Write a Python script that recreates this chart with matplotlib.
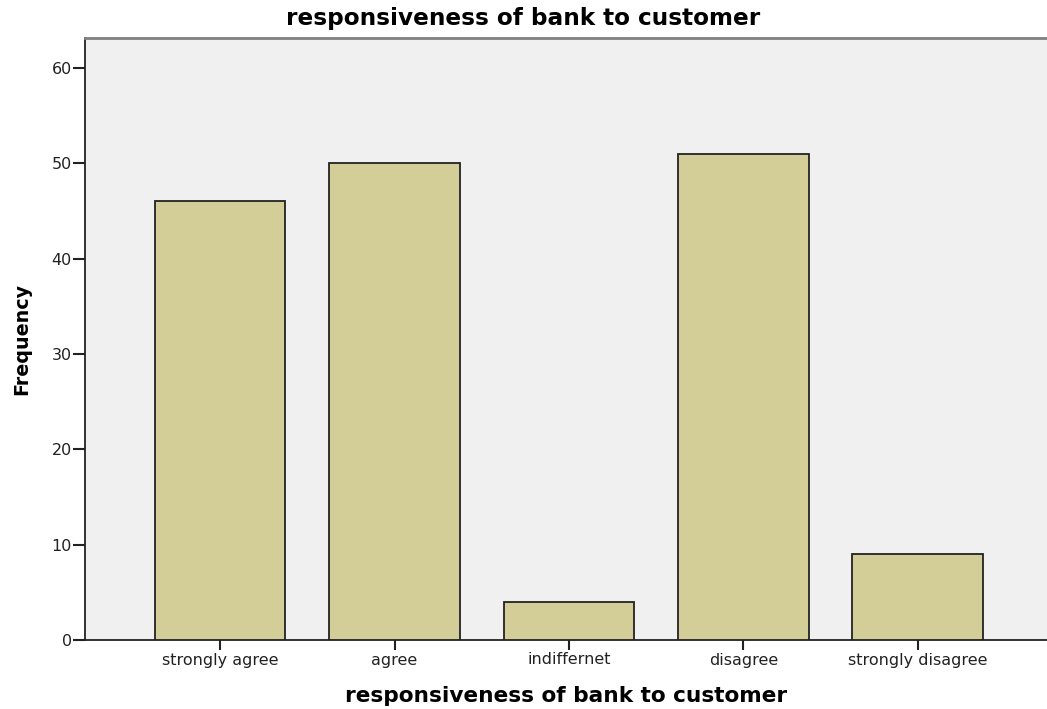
import matplotlib
matplotlib.use("Agg")
import matplotlib.pyplot as plt

categories = ["strongly agree", "agree", "indiffernet", "disagree", "strongly disagree"]
frequencies = [46, 50, 4, 51, 9]
yticks = [0, 10, 20, 30, 40, 50, 60]

plt.rcParams['font.family'] = ['DejaVu Sans']

fig = plt.figure(figsize=(10.47, 7.09), dpi=100)
ax = fig.add_axes([85/1047, 1-640/709, 1-85/1047, (640-38)/709])
ax.set_facecolor('#f0f0f0')

x = list(range(len(categories)))
ax.bar(x, frequencies, width=0.75, color='#d3ce97', edgecolor='#222222', linewidth=1.3, zorder=3)

ax.set_xlim(-0.774, 4.74)
ax.set_ylim(0, 63.15)
ax.set_xticks(x)
ax.set_xticklabels(categories, fontsize=11.5, color='#222222')
ax.set_yticks(yticks)
ax.set_yticklabels([str(v) for v in yticks], fontsize=11.5, color='#222222')
ax.tick_params(axis='x', direction='out', length=7, width=1.5, color='#222222', pad=2)
ax.tick_params(axis='y', direction='out', length=8.5, width=1.5, color='#222222', pad=1)

for s in ['left', 'bottom']:
    ax.spines[s].set_color('#222222')
    ax.spines[s].set_linewidth(1.3)
ax.spines['top'].set_color('#808080')
ax.spines['top'].set_linewidth(2)
ax.spines['right'].set_visible(False)

fig.text(0.5, 1 - 18/709, "responsiveness of bank to customer", fontsize=16.7,
         fontweight='bold', ha='center', va='center')
ax.set_xlabel("responsiveness of bank to customer", fontsize=15.6, fontweight='bold', labelpad=13)
ax.set_ylabel("Frequency", fontsize=13.8, fontweight='bold')
ax.yaxis.set_label_coords(-0.056, 0.5)

fig.savefig("out.png", dpi=100)
